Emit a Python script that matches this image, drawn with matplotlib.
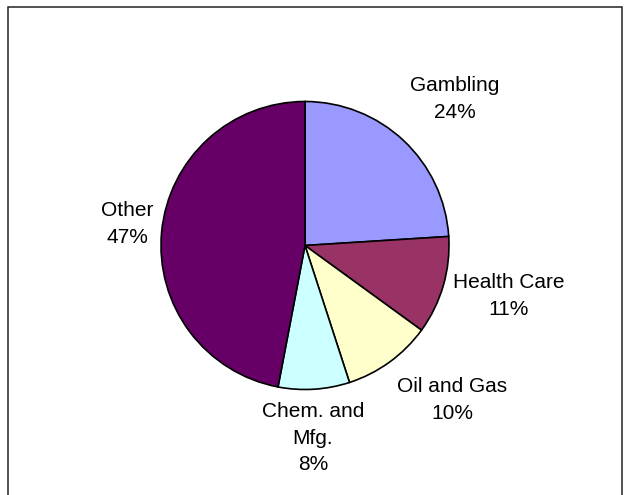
import matplotlib
matplotlib.use("Agg")
import matplotlib.pyplot as plt
from matplotlib.patches import Rectangle

# Share of total by sector
categories = ["Gambling", "Health Care", "Oil and Gas", "Chem. and\nMfg.", "Other"]
shares = [24, 11, 10, 8, 47]
colors = ["#9999FF", "#993366", "#FFFFCC", "#CCFFFF", "#660066"]

W, H = 625, 495
# Label block centres in pixel coordinates (x, y measured from top)
label_pos = [(455, 99), (509, 296), (452, 400), (313, 438), (127, 224)]

fig = plt.figure(figsize=(W / 100, H / 100), dpi=100)
ax = fig.add_axes([0, 0, 1, 1])

ax.pie(shares, colors=colors, startangle=90, counterclock=False,
       center=(305, H - 245.5), radius=144, frame=True,
       wedgeprops=dict(edgecolor="black", linewidth=1.2))
ax.set_xlim(0, W)
ax.set_ylim(0, H)
ax.set_aspect("equal")
ax.axis("off")

# Chart-area border (bottom edge runs off the canvas)
ax.add_patch(Rectangle((8, -10), 614, H - 6.5 + 10, fill=False,
                       edgecolor="#222222", linewidth=1.1, clip_on=False))

for name, val, (x, y) in zip(categories, shares, label_pos):
    ax.text(x, H - y, f"{name}\n{val}%", ha="center", va="center",
            fontsize=15, family="Liberation Sans", linespacing=1.5,
            color="black")

fig.savefig("out.png", dpi=100)
